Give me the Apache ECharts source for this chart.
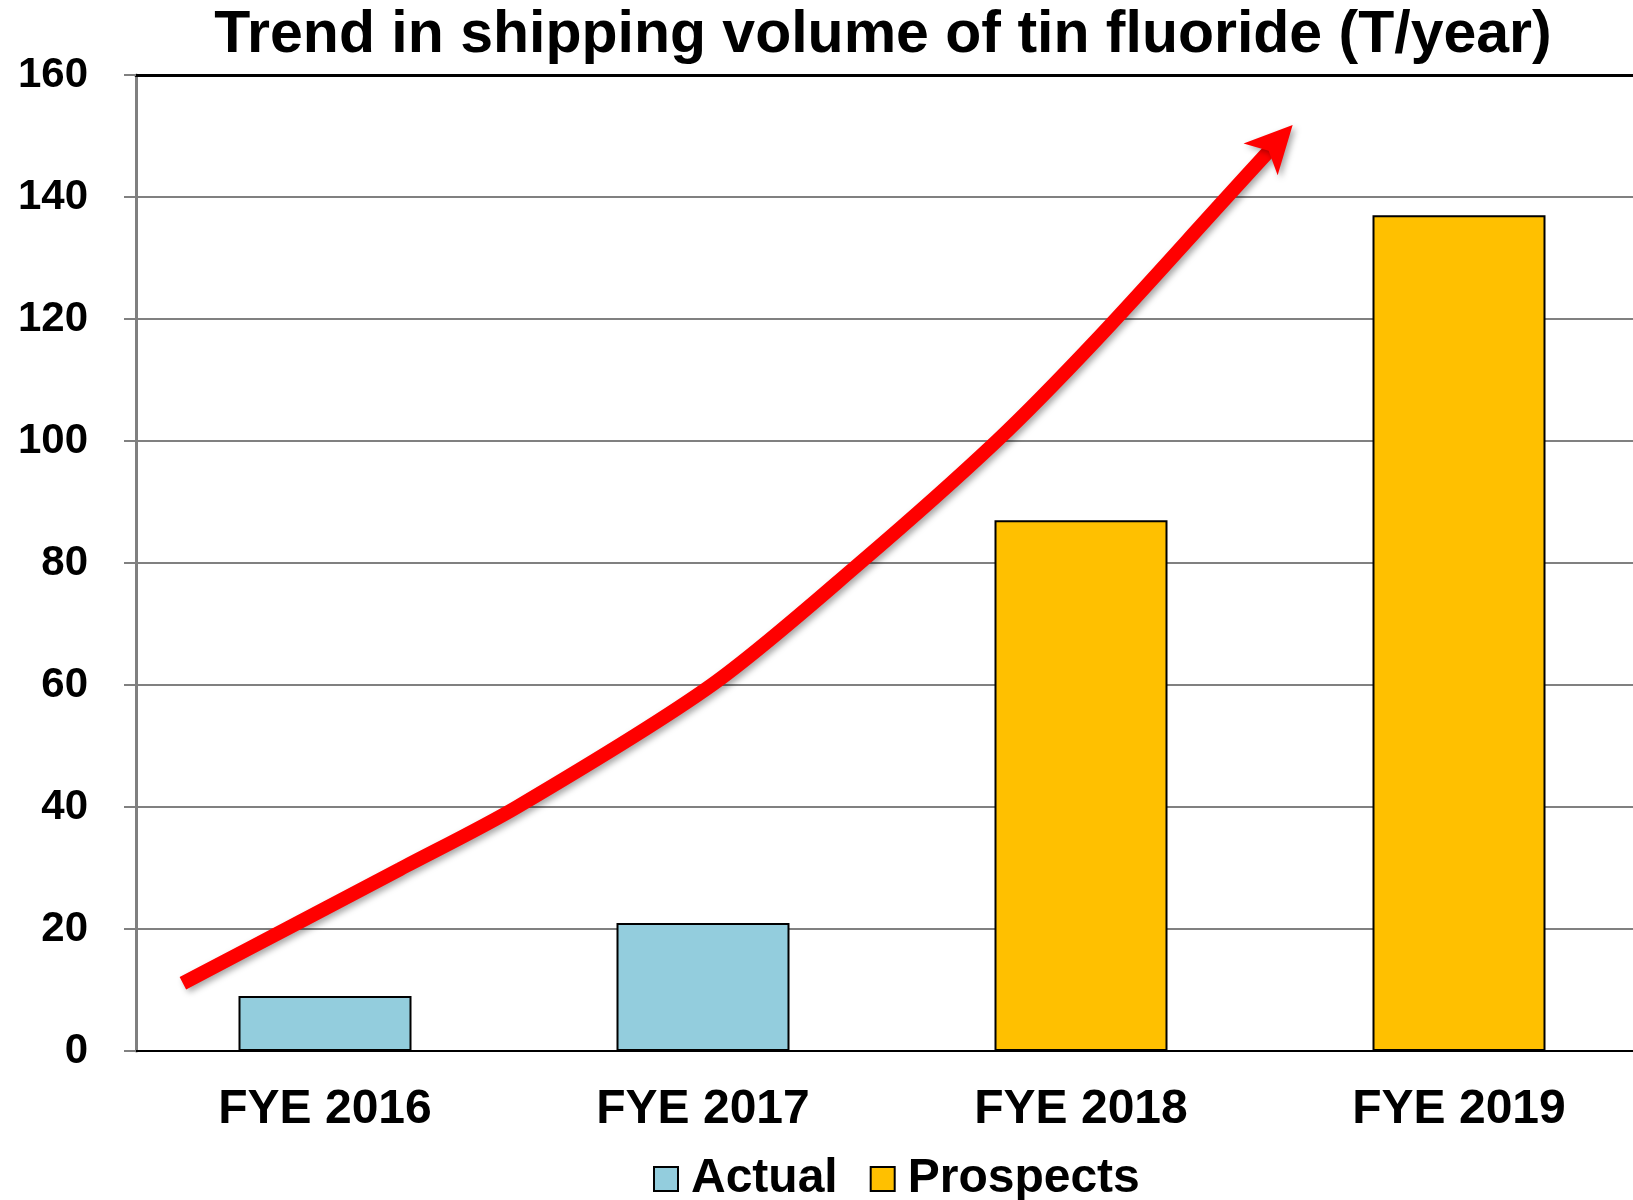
<!DOCTYPE html>
<html>
<head>
<meta charset="utf-8">
<script src="https://cdn.jsdelivr.net/npm/echarts@6/dist/echarts.min.js"></script>
<style>
  html, body { margin: 0; padding: 0; background: #fff; }
  #chart { width: 1633px; height: 1200px; }
</style>
</head>
<body>
<div id="chart"></div>
<script>
const categories = ['FYE 2016', 'FYE 2017', 'FYE 2018', 'FYE 2019']
const actualValues = [9, 21, '-', '-']
const prospectValues = ['-', '-', 87, 137]
const yTicks = [0, 20, 40, 60, 80, 100, 120, 140, 160]

// trend arrow, x in category units (0 = left edge), y in T/year
const trendX = [0.124, 0.434, 0.698, 1.008, 1.523, 1.915, 2.277, 2.541, 2.886, 3.007]
const trendY = [11.1, 21.2, 29.8, 40, 60, 80, 100, 116.6, 140, 148.2]

const font = "'Liberation Sans', Arial, sans-serif"

const chart = echarts.init(document.getElementById('chart'))

// arrow head on the last point
const trendData = trendX.map((x, i) => {
  const item = { value: [x, trendY[i]] }
  if (i === trendX.length - 1) {
    item.symbol = 'arrow'
    item.symbolSize = [35, 47]
    item.symbolRotate = -43
    item.symbolOffset = [20, -22]
  }
  return item
})

const option = {
  animation: false,
  title: {
    text: 'Trend in shipping volume of tin fluoride (T/year)',
    left: 878,
    textAlign: 'center',
    top: 1,
    textStyle: { fontFamily: font, fontWeight: 'bold', fontSize: 59, color: '#000' }
  },
  legend: {
    left: 648,
    top: 1150,
    itemWidth: 24,
    itemHeight: 24,
    itemGap: 32,
    icon: 'rect',
    data: ['Actual', 'Prospects'],
    textStyle: { fontFamily: font, fontWeight: 'bold', fontSize: 48, color: '#000', padding: [0, 0, 0, 8] }
  },
  grid: { left: 136, width: 1512, top: 75, bottom: 149, outerBoundsMode: 'none', containLabel: false },
  xAxis: [{
    type: 'category',
    data: categories,
    axisLine: { lineStyle: { color: '#000', width: 2 } },
    axisTick: { inside: true, length: 14, lineStyle: { color: '#808080', width: 2 } },
    axisLabel: { margin: 35, fontFamily: font, fontWeight: 'bold', fontSize: 48, color: '#000' }
  }, {
    type: 'value',
    min: 0,
    max: 4,
    position: 'top',
    axisLine: { show: true, lineStyle: { color: '#000', width: 3 } },
    axisTick: { show: false },
    axisLabel: { show: false },
    splitLine: { show: false }
  }],
  yAxis: {
    type: 'value',
    min: yTicks[0],
    max: yTicks[yTicks.length - 1],
    interval: 20,
    axisLine: { show: true, lineStyle: { color: '#808080', width: 3 } },
    axisTick: { show: true, length: 12, lineStyle: { color: '#808080', width: 2 } },
    axisLabel: { margin: 48, fontFamily: font, fontWeight: 'bold', fontSize: 42, color: '#000' },
    splitLine: { lineStyle: { color: '#808080', width: 2 } }
  },
  series: [{
    name: 'Actual',
    type: 'bar',
    stack: 'total',
    barWidth: 173,
    data: actualValues,
    itemStyle: { color: '#93CDDD', borderColor: '#000', borderWidth: 2 }
  }, {
    name: 'Prospects',
    type: 'bar',
    stack: 'total',
    barWidth: 173,
    data: prospectValues,
    itemStyle: { color: '#FFC000', borderColor: '#000', borderWidth: 2 }
  }, {
    name: 'trend',
    type: 'line',
    xAxisIndex: 1,
    smooth: 0.3,
    symbol: 'none',
    showSymbol: true,
    data: trendData,
    z: 5,
    lineStyle: {
      color: '#FF0000',
      width: 14,
      cap: 'butt',
      shadowColor: 'rgba(0,0,0,0.35)',
      shadowBlur: 6,
      shadowOffsetX: 3,
      shadowOffsetY: 3
    },
    itemStyle: {
      color: '#FF0000',
      shadowColor: 'rgba(0,0,0,0.35)',
      shadowBlur: 6,
      shadowOffsetX: 3,
      shadowOffsetY: 3
    }
  }]
}

chart.setOption(option)
</script>
</body>
</html>
